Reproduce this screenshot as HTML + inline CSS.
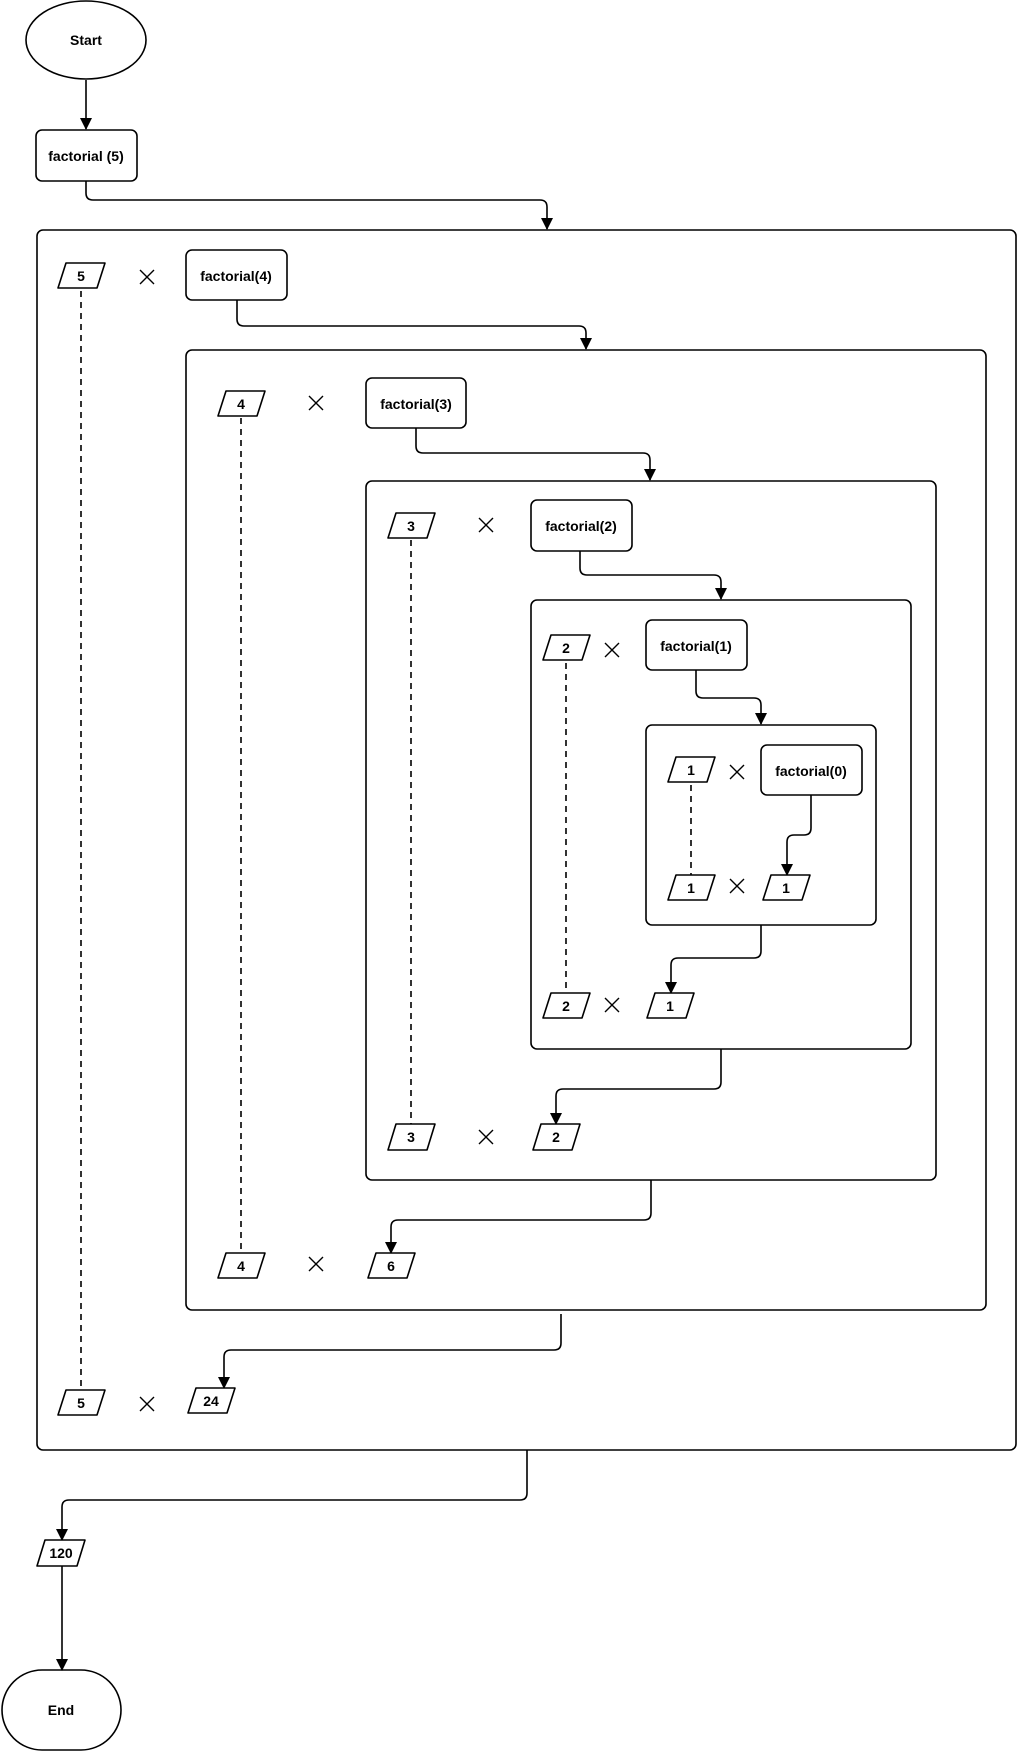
<!DOCTYPE html>
<html><head><meta charset="utf-8"><style>
html,body{margin:0;padding:0;background:#fff;}
svg{display:block;}
text{font-family:"Liberation Sans",Arial,sans-serif;font-weight:bold;font-size:14px;fill:#000;}
.b{fill:#fff;stroke:#000;stroke-width:1.6;stroke-linejoin:round;}
.c{fill:none;stroke:#000;stroke-width:1.6;}
.d{fill:none;stroke:#000;stroke-width:1.6;stroke-dasharray:6,5;}
.x{stroke:#000;stroke-width:1.4;}
</style></head><body>
<svg width="1018" height="1752" viewBox="0 0 1018 1752" xmlns="http://www.w3.org/2000/svg">
<defs>
<marker id="a" markerWidth="12" markerHeight="12" refX="11" refY="6" orient="auto" markerUnits="userSpaceOnUse" viewBox="0 0 12 12">
<path d="M0,0 L12,6 L0,12 z" fill="#000"/>
</marker>
</defs>
<rect class="b" x="37" y="230" width="979" height="1220" rx="6"/>
<rect class="b" x="186" y="350" width="800" height="960" rx="6"/>
<rect class="b" x="366" y="481" width="570" height="699" rx="6"/>
<rect class="b" x="531" y="600" width="380" height="449" rx="6"/>
<rect class="b" x="646" y="725" width="230" height="200" rx="6"/>

<ellipse class="b" cx="86" cy="40" rx="60" ry="39"/>
<text x="86" y="45" text-anchor="middle">Start</text>
<rect class="b" x="2" y="1670" width="119" height="80" rx="40"/>
<text x="61" y="1715" text-anchor="middle">End</text>

<rect class="b" x="36" y="130" width="101" height="51" rx="6"/><text x="86" y="161" text-anchor="middle">factorial (5)</text>
<rect class="b" x="186" y="250" width="101" height="50" rx="6"/><text x="236" y="281" text-anchor="middle">factorial(4)</text>
<rect class="b" x="366" y="378" width="100" height="50" rx="6"/><text x="416" y="409" text-anchor="middle">factorial(3)</text>
<rect class="b" x="531" y="500" width="101" height="51" rx="6"/><text x="581" y="531" text-anchor="middle">factorial(2)</text>
<rect class="b" x="646" y="620" width="101" height="50" rx="6"/><text x="696" y="651" text-anchor="middle">factorial(1)</text>
<rect class="b" x="761" y="745" width="101" height="50" rx="6"/><text x="811" y="776" text-anchor="middle">factorial(0)</text>

<path class="c" d="M86,80 V129" marker-end="url(#a)"/>
<path class="c" d="M86,181 V193 Q86,200 93,200 H540 Q547,200 547,207 V229" marker-end="url(#a)"/>
<path class="c" d="M237,300 V319 Q237,326 244,326 H579 Q586,326 586,333 V349" marker-end="url(#a)"/>
<path class="c" d="M416,428 V446 Q416,453 423,453 H643 Q650,453 650,460 V480" marker-end="url(#a)"/>
<path class="c" d="M580,551 V568 Q580,575 587,575 H714 Q721,575 721,582 V599" marker-end="url(#a)"/>
<path class="c" d="M696,670 V691 Q696,698 703,698 H754 Q761,698 761,705 V724" marker-end="url(#a)"/>
<path class="c" d="M811,795 V828 Q811,835 804,835 H794 Q787,835 787,842 V875" marker-end="url(#a)"/>
<path class="c" d="M761,925 V951 Q761,958 754,958 H678 Q671,958 671,965 V993" marker-end="url(#a)"/>
<path class="c" d="M721,1049 V1082 Q721,1089 714,1089 H563 Q556,1089 556,1096 V1124" marker-end="url(#a)"/>
<path class="c" d="M651,1180 V1213 Q651,1220 644,1220 H398 Q391,1220 391,1227 V1253" marker-end="url(#a)"/>
<path class="c" d="M561,1314 V1343 Q561,1350 554,1350 H231 Q224,1350 224,1357 V1388" marker-end="url(#a)"/>
<path class="c" d="M527,1450 V1493 Q527,1500 520,1500 H69 Q62,1500 62,1507 V1540" marker-end="url(#a)"/>
<path class="c" d="M62,1566 V1670" marker-end="url(#a)"/>

<path class="d" d="M81,291 V1390"/>
<path class="d" d="M241,418 V1253"/>
<path class="d" d="M411,540 V1124"/>
<path class="d" d="M566,663 V993"/>
<path class="d" d="M691,785 V875"/>

<g>
<path class="b" d="M66,263 H105 L97,288 H58 Z"/><text x="81" y="281" text-anchor="middle">5</text>
<path class="b" d="M66,1390 H105 L97,1415 H58 Z"/><text x="81" y="1408" text-anchor="middle">5</text>
<path class="b" d="M196,1388 H235 L227,1413 H188 Z"/><text x="211" y="1406" text-anchor="middle">24</text>
<path class="b" d="M226,391 H265 L257,416 H218 Z"/><text x="241" y="409" text-anchor="middle">4</text>
<path class="b" d="M226,1253 H265 L257,1278 H218 Z"/><text x="241" y="1271" text-anchor="middle">4</text>
<path class="b" d="M376,1253 H415 L407,1278 H368 Z"/><text x="391" y="1271" text-anchor="middle">6</text>
<path class="b" d="M396,513 H435 L427,538 H388 Z"/><text x="411" y="531" text-anchor="middle">3</text>
<path class="b" d="M396,1124 H435 L427,1150 H388 Z"/><text x="411" y="1142" text-anchor="middle">3</text>
<path class="b" d="M541,1124 H580 L572,1150 H533 Z"/><text x="556" y="1142" text-anchor="middle">2</text>
<path class="b" d="M551,635 H590 L582,660 H543 Z"/><text x="566" y="653" text-anchor="middle">2</text>
<path class="b" d="M551,993 H590 L582,1018 H543 Z"/><text x="566" y="1011" text-anchor="middle">2</text>
<path class="b" d="M655,993 H694 L686,1018 H647 Z"/><text x="670" y="1011" text-anchor="middle">1</text>
<path class="b" d="M676,757 H715 L707,782 H668 Z"/><text x="691" y="775" text-anchor="middle">1</text>
<path class="b" d="M676,875 H715 L707,900 H668 Z"/><text x="691" y="893" text-anchor="middle">1</text>
<path class="b" d="M771,875 H810 L802,900 H763 Z"/><text x="786" y="893" text-anchor="middle">1</text>
<path class="b" d="M45,1540 H85 L77,1566 H37 Z"/><text x="61" y="1558" text-anchor="middle">120</text>
</g>

<g class="x">
<path d="M140,270 L154,284 M154,270 L140,284"/>
<path d="M140,1397 L154,1411 M154,1397 L140,1411"/>
<path d="M309,396 L323,410 M323,396 L309,410"/>
<path d="M309,1257 L323,1271 M323,1257 L309,1271"/>
<path d="M479,518 L493,532 M493,518 L479,532"/>
<path d="M479,1130 L493,1144 M493,1130 L479,1144"/>
<path d="M605,643 L619,657 M619,643 L605,657"/>
<path d="M605,998 L619,1012 M619,998 L605,1012"/>
<path d="M730,765 L744,779 M744,765 L730,779"/>
<path d="M730,879 L744,893 M744,879 L730,893"/>
</g>
</svg>
</body></html>
